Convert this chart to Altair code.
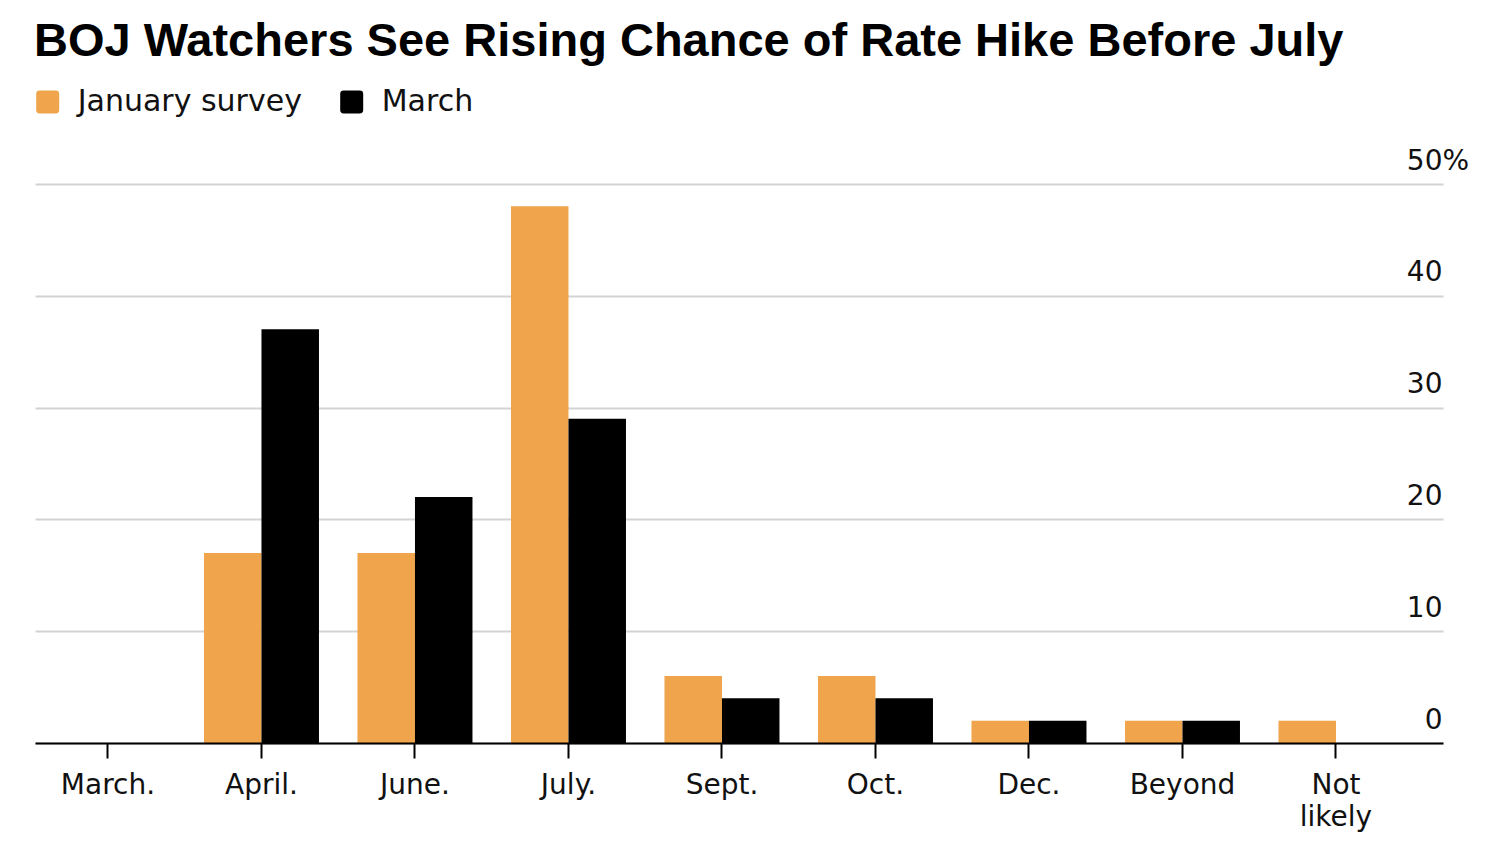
import altair as alt
import pandas as pd

categories = ["March.", "April.", "June.", "July.", "Sept.", "Oct.", "Dec.", "Beyond", "Not likely"]
january_survey = [0, 17, 17, 48, 6, 6, 2, 2, 2]
march_survey = [0, 37, 22, 29, 4, 4, 2, 2, 0]
series_names = ["January survey", "March"]
series_colors = ["#F0A44B", "#000000"]
y_ticks = [0, 10, 20, 30, 40, 50]

rows = []
for c, j, m in zip(categories, january_survey, march_survey):
    rows.append({"category": c, "series": series_names[0], "value": j})
    rows.append({"category": c, "series": series_names[1], "value": m})
df = pd.DataFrame(rows)

rounded_square = ("M-0.7,-1 L0.7,-1 Q1,-1 1,-0.7 L1,0.7 Q1,1 0.7,1 "
                  "L-0.7,1 Q-1,1 -1,0.7 L-1,-0.7 Q-1,-1 -0.7,-1 Z")

chart = alt.Chart(df).mark_bar().encode(
    x=alt.X(
        "category:N",
        sort=categories,
        title=None,
        scale=alt.Scale(paddingInner=0.2508, paddingOuter=0.2117, align=0.238),
        axis=alt.Axis(
            labelAngle=0,
            labelFont="DejaVu Sans",
            labelFontSize=28,
            labelColor="#111111",
            labelPadding=13,
            labelLineHeight=32,
            labelExpr="datum.label == 'Not likely' ? ['Not', 'likely'] : datum.label",
            tickSize=15,
            tickWidth=2,
            tickColor="#000000",
            domainColor="#000000",
            domainWidth=2,
            zindex=1,
        ),
    ),
    xOffset=alt.XOffset("series:N", sort=series_names, scale=alt.Scale(paddingInner=0, paddingOuter=0)),
    y=alt.Y(
        "value:Q",
        title=None,
        scale=alt.Scale(domain=[0, 50], nice=False),
        axis=alt.Axis(
            orient="right",
            values=y_ticks,
            grid=True,
            gridColor="#d3d3d3",
            gridWidth=2,
            domain=False,
            ticks=False,
            labelAlign="right",
            labelBaseline="alphabetic",
            labelOffset=-15,
            labelPadding={"condition": {"test": "datum.value == 50", "value": 25.6}, "value": -1},
            labelFont="DejaVu Sans",
            labelFontSize=28,
            labelColor="#111111",
            labelExpr="datum.value == 50 ? '50%' : datum.label",
        ),
    ),
    color=alt.Color(
        "series:N",
        sort=series_names,
        scale=alt.Scale(domain=series_names, range=series_colors),
        legend=alt.Legend(
            title=None,
            orient="none",
            legendX=-2.3,
            legendY=-97,
            direction="horizontal",
            padding=0,
            symbolType=rounded_square,
            symbolSize=529,
            symbolStrokeWidth=0,
            labelFont="DejaVu Sans",
            labelFontSize=30,
            labelColor="#111111",
            labelOffset=15,
            labelLimit=0,
            columnPadding=34,
        ),
    ),
).properties(
    width=1408,
    height=559,
    autosize=alt.AutoSizeParams(type="none"),
    padding={"left": 27, "top": 176, "right": 49, "bottom": 99},
    title=alt.TitleParams(
        "BOJ Watchers See Rising Chance of Rate Hike Before July",
        anchor="start",
        frame="group",
        font="Liberation Sans",
        fontSize=47,
        fontWeight="bold",
        color="#000000",
        baseline="alphabetic",
        offset=-16,
        dx=-1,
    ),
).configure_view(strokeWidth=0)

chart.save("out.html", embed_options={"renderer": "svg", "actions": False})
